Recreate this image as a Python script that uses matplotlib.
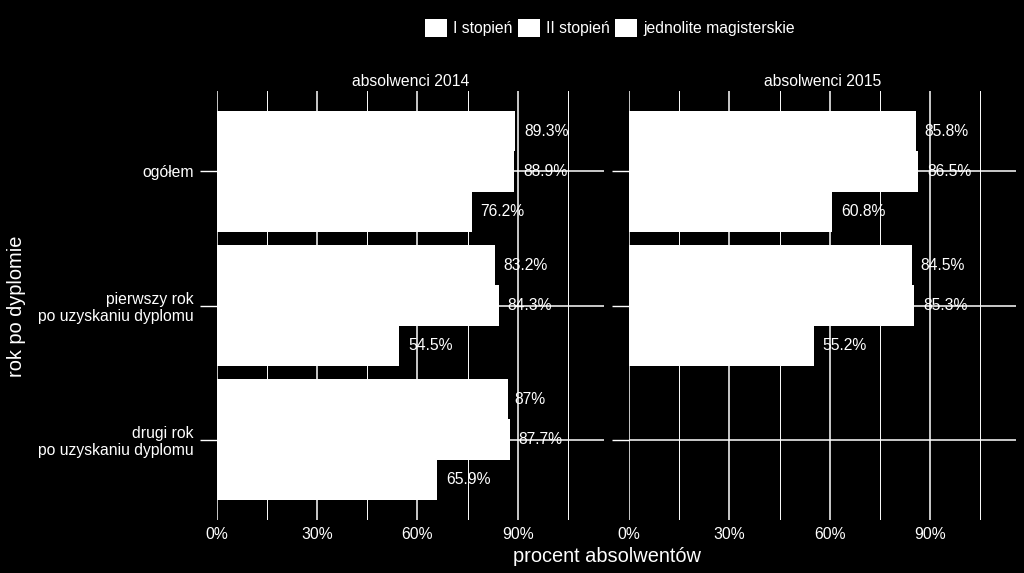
import numpy as np
import matplotlib
matplotlib.use("Agg")
import matplotlib.pyplot as plt
from matplotlib.patches import Patch
from matplotlib.ticker import FixedLocator

plt.rcParams["font.family"] = ["Liberation Sans", "DejaVu Sans"]

# categories (top to bottom) and series
categories = ["ogółem", "pierwszy rok\npo uzyskaniu dyplomu", "drugi rok\npo uzyskaniu dyplomu"]
series = ["I stopień", "II stopień", "jednolite magisterskie"]
panels = ["absolwenci 2014", "absolwenci 2015"]

# values in percent, rows = categories, columns = series
vals_2014 = [
    [89.3, 88.9, 76.2],
    [83.2, 84.3, 54.5],
    [87.0, 87.7, 65.9],
]
vals_2015 = [
    [85.8, 86.5, 60.8],
    [84.5, 85.3, 55.2],
    [np.nan, np.nan, np.nan],
]
labels_2014 = [["89.3%", "88.9%", "76.2%"], ["83.2%", "84.3%", "54.5%"], ["87%", "87.7%", "65.9%"]]
labels_2015 = [["85.8%", "86.5%", "60.8%"], ["84.5%", "85.3%", "55.2%"], [None, None, None]]

x_major = [0, 30, 60, 90]
x_minor = [15, 45, 75, 105]
x_ticklabels = ["0%", "30%", "60%", "90%"]

W, H = 1024, 573
FG = "white"
FS = 11.3

fig = plt.figure(figsize=(W / 100, H / 100), dpi=100, facecolor="black")

panel_bottom = (H - 520) / H
panel_height = 429 / H
ax_l = fig.add_axes([216.7 / W, panel_bottom, 387 / W, panel_height])
ax_r = fig.add_axes([629 / W, panel_bottom, 387 / W, panel_height])

bar_h = 0.3
offsets = [-0.3, 0.0, 0.3]
ypos = np.arange(1, len(categories) + 1)

for ax, title, vals, labs in [(ax_l, panels[0], vals_2014, labels_2014),
                              (ax_r, panels[1], vals_2015, labels_2015)]:
    ax.set_facecolor("black")
    ax.set_xlim(0, 115.7)
    ax.set_ylim(3.6, 0.4)
    ax.set_axisbelow(True)
    for s in ax.spines.values():
        s.set_visible(False)

    ax.xaxis.set_major_locator(FixedLocator(x_major))
    ax.xaxis.set_minor_locator(FixedLocator(x_minor))
    ax.set_xticklabels(x_ticklabels)
    ax.set_yticks(ypos)
    ax.grid(axis="x", which="major", color=FG, linewidth=1.1)
    ax.grid(axis="x", which="minor", color=FG, linewidth=0.7)
    ax.grid(axis="y", which="major", color=FG, linewidth=1.1)
    ax.tick_params(axis="x", which="both", length=0, pad=5, colors=FG, labelsize=FS)
    ax.tick_params(axis="y", length=12.2, width=1.0, pad=4.5, colors=FG, labelsize=FS)

    for i in range(len(categories)):
        for j in range(len(series)):
            v = vals[i][j]
            if np.isnan(v):
                continue
            ax.barh(ypos[i] + offsets[j], v, height=bar_h, color="white", linewidth=0, zorder=2)

    ax.text(0.5, 1 + 9 / 429, title, transform=ax.transAxes, ha="center", va="center",
            color=FG, fontsize=FS)
    ax._vals, ax._labs = vals, labs

ax_l.set_yticklabels(categories)
ax_r.set_yticklabels([])

# value labels, shifted right by 20% of their own width (like hjust = -0.2)
fig.canvas.draw()
renderer = fig.canvas.get_renderer()
for ax in (ax_l, ax_r):
    px_per_unit = ax.transData.transform((1, 0))[0] - ax.transData.transform((0, 0))[0]
    for i in range(len(categories)):
        for j in range(len(series)):
            lab = ax._labs[i][j]
            if lab is None:
                continue
            v = ax._vals[i][j]
            t = ax.text(v, ypos[i] + offsets[j], lab, ha="left", va="center",
                        color=FG, fontsize=FS, zorder=5)
            w = t.get_window_extent(renderer).width
            t.set_x(v + 0.2 * w / px_per_unit)

fig.text(607 / W, 1 - 556 / H, "procent absolwentów", ha="center", va="center",
         color=FG, fontsize=14.4)
fig.text(17 / W, 1 - 306 / H, "rok po dyplomie", ha="center", va="center",
         rotation=90, color=FG, fontsize=14.4)

handles = [Patch(facecolor="white", edgecolor="none") for _ in series]
fig.legend(handles, series, loc="center", bbox_to_anchor=(610 / W, 1 - 28 / H),
           ncol=3, frameon=False, fontsize=FS, labelcolor=FG,
           handlelength=1.4, handleheight=1.4, handletextpad=0.38,
           columnspacing=0.35, borderpad=0, borderaxespad=0)

fig.savefig("out.png", dpi=100, facecolor="black")
